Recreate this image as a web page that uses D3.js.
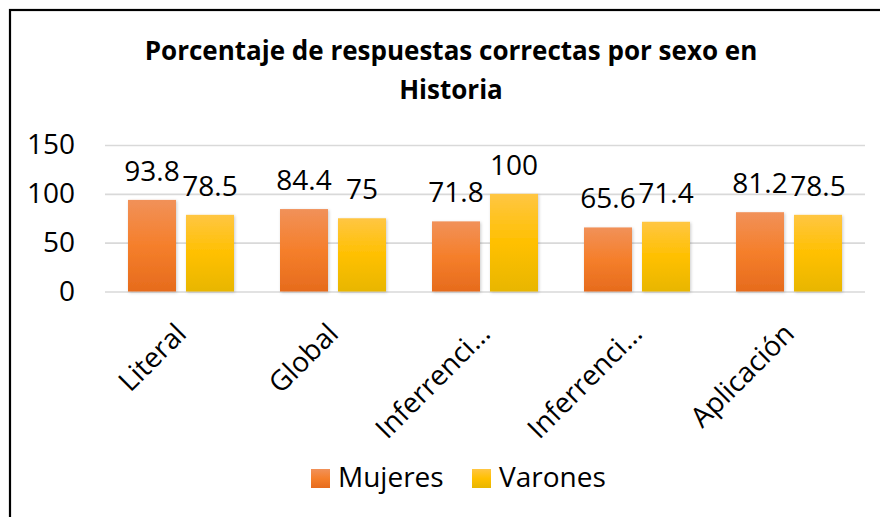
<!DOCTYPE html>
<html>
<head>
<meta charset="utf-8">
<script src="https://cdn.jsdelivr.net/npm/d3@7"></script>
<style>
  body { margin: 0; background: #fff; }
  svg { display: block; font-family: "Open Sans", sans-serif; }
</style>
</head>
<body>
<div class="chart1"></div>
<script>
var categories = ["Literal", "Global", "Inferrenci…", "Inferrenci…", "Aplicación"];
var series = ["Mujeres", "Varones"];
var mujeres = [93.8, 84.4, 71.8, 65.6, 81.2];
var varones = [78.5, 75, 100, 71.4, 78.5];
var yTicks = [0, 50, 100, 150];
var titleLines = ["Porcentaje de respuestas correctas por sexo en", "Historia"];

var width = 880;
var height = 517;
var plot = { left: 105, right: 865, top: 145, bottom: 291.5 };

var colors = {
  Mujeres: ["#F19159", "#F57F2B", "#E66B1D"],
  Varones: ["#FFC643", "#FFC000", "#E8B600"]
};

var svg = d3.select(".chart1")
  .append("svg")
  .attr("width", width)
  .attr("height", height);

var defs = svg.append("defs");

series.forEach(function (s, i) {
  var g = defs.append("linearGradient")
    .attr("id", "grad" + i)
    .attr("x1", 0).attr("y1", 0)
    .attr("x2", 0).attr("y2", 1);
  g.append("stop").attr("offset", "0%").attr("stop-color", colors[s][0]);
  g.append("stop").attr("offset", "50%").attr("stop-color", colors[s][1]);
  g.append("stop").attr("offset", "100%").attr("stop-color", colors[s][2]);
});

defs.append("filter")
  .attr("id", "shadow")
  .attr("x", "-20%").attr("y", "-20%")
  .attr("width", "140%").attr("height", "140%")
  .append("feDropShadow")
  .attr("dx", 1).attr("dy", 1)
  .attr("stdDeviation", 1.5)
  .attr("flood-color", "#000")
  .attr("flood-opacity", 0.2);

// frame
svg.append("rect")
  .attr("x", 10).attr("y", 10)
  .attr("width", 900).attr("height", 600)
  .attr("fill", "#fff")
  .attr("stroke", "#000")
  .attr("stroke-width", 2.2);

/* Title */

svg.append("text")
  .attr("text-anchor", "middle")
  .attr("font-weight", "bold")
  .attr("font-size", "26px")
  .attr("fill", "#000")
  .selectAll("tspan")
  .data(titleLines)
  .enter().append("tspan")
  .attr("x", 451)
  .attr("y", function (d, i) { return 60 + i * 39; })
  .text(function (d) { return d; });

/* Scales */

var data = categories.map(function (c, i) {
  return { key: i, category: c, values: [mujeres[i], varones[i]] };
});

var x0 = d3.scaleBand()
  .domain(d3.range(categories.length))
  .range([plot.left, plot.right])
  .paddingInner(46 / 152)
  .paddingOuter(23 / 152);

var x1 = d3.scaleBand()
  .domain(series)
  .range([0, x0.bandwidth()])
  .paddingInner(10 / 58);

var y = d3.scaleLinear()
  .domain([0, 150])
  .range([plot.bottom, plot.top]);

/* Axes */

var yAxis = svg.append("g")
  .attr("class", "axis axis--y")
  .attr("transform", "translate(" + plot.left + ",0)")
  .call(d3.axisLeft(y).tickValues(yTicks).tickSize(-(plot.right - plot.left)).tickPadding(30));

yAxis.select(".domain").remove();
yAxis.selectAll(".tick line")
  .attr("stroke", "#D9D9D9")
  .attr("stroke-width", 1.6);
yAxis.selectAll(".tick text")
  .attr("font-family", "Open Sans, sans-serif")
  .attr("font-size", "28px")
  .attr("fill", "#000");

var xAxis = svg.append("g")
  .attr("class", "axis axis--x")
  .attr("transform", "translate(0," + plot.bottom + ")")
  .call(d3.axisBottom(x0).tickSize(0).tickFormat(function (i) { return categories[i]; }));

xAxis.select(".domain").remove();
xAxis.selectAll(".tick text")
  .attr("font-family", "Open Sans, sans-serif")
  .attr("font-size", "28px")
  .attr("fill", "#000")
  .attr("text-anchor", "end")
  .attr("y", 0)
  .attr("dy", "0.35em")
  .attr("transform", "translate(0,37) rotate(-45)");

/* Bars */

var group = svg.selectAll(".group")
  .data(data)
  .enter().append("g")
  .attr("class", "group")
  .attr("transform", function (d) { return "translate(" + x0(d.key) + ",0)"; });

var cells = group.selectAll(".cell")
  .data(function (d) {
    return d.values.map(function (v, i) { return { series: series[i], idx: i, value: v }; });
  })
  .enter().append("g")
  .attr("class", "cell");

cells.append("rect")
  .attr("x", function (d) { return x1(d.series); })
  .attr("y", function (d) { return y(d.value); })
  .attr("width", x1.bandwidth())
  .attr("height", function (d) { return y(0) - y(d.value); })
  .attr("fill", function (d) { return "url(#grad" + d.idx + ")"; })
  .attr("filter", "url(#shadow)");

cells.append("text")
  .attr("x", function (d) { return x1(d.series) + x1.bandwidth() / 2; })
  .attr("y", function (d) { return y(d.value) - 19; })
  .attr("text-anchor", "middle")
  .attr("font-size", "28px")
  .attr("fill", "#000")
  .text(function (d) { return d.value; });

/* Legend */

var legend = svg.selectAll(".legend")
  .data(series)
  .enter().append("g")
  .attr("class", "legend")
  .attr("transform", function (d, i) { return "translate(" + (311 + i * 161) + ",469)"; });

legend.append("rect")
  .attr("width", 19)
  .attr("height", 19)
  .attr("fill", function (d, i) { return "url(#grad" + i + ")"; });

legend.append("text")
  .attr("x", 27)
  .attr("y", 18)
  .attr("font-size", "28px")
  .attr("fill", "#000")
  .text(function (d) { return d; });
</script>
</body>
</html>
